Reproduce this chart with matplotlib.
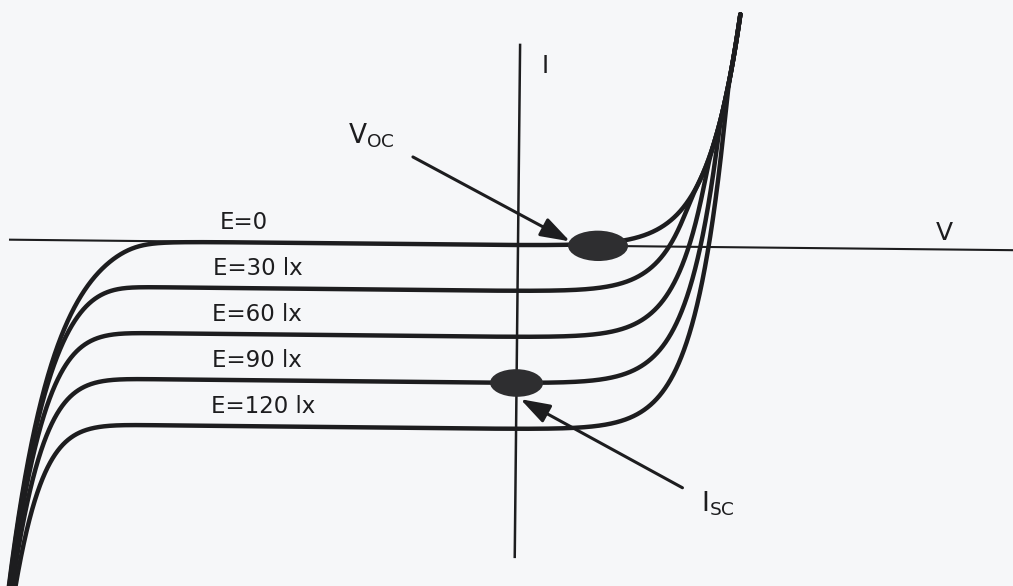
"""Photodiode I-V characteristic family for several illuminance levels."""
import numpy as np
import matplotlib
matplotlib.use("Agg")
import matplotlib.pyplot as plt
from matplotlib.patches import Ellipse, FancyArrowPatch
from matplotlib.transforms import Affine2D

# illuminance steps and the photocurrent (in I units) each one adds
lux = [0, 30, 60, 90, 120]
curve_labels = ["E=0", "E=30 lx", "E=60 lx", "E=90 lx", "E=120 lx"]
i_photo = [0.0, 1.0, 2.0, 3.0, 4.0]

# forward diode branch of the lit curves: I = Is*exp(V/Vt) - Iph
i_sat, v_t = 0.0050, 0.285
# forward branch of the dark curve
i_sat_dark, v_t_dark = 0.0042, 0.31
# reverse breakdown branch (common to all curves)
bd_offset, bd_amp, bd_v, bd_s = 0.31, 3.53, -4.72, 0.42

v_oc_mark = 0.8      # open-circuit mark on the dark curve
isc_index = 3        # short-circuit mark sits on the E=90 lx curve

# axis extents and where the arrows start / end
v_axis = (-5.08, 4.95)
i_axis = (4.35, -6.78)
voc_arrow = [(-1.06, 1.89), (0.52, 0.09)]
isc_arrow = [(1.67, -5.24), (0.04, -3.35)]

INK = "#1d1d1f"
BG = "#f6f7f9"


def softmin(a, b, k):
    return -k * np.logaddexp(-a / k, -b / k)


fig = plt.figure(figsize=(10.13, 5.86), dpi=100, facecolor=BG)
ax = fig.add_axes([0, 0, 1, 1])
ax.set_xlim(-5.18, 4.95)
ax.set_ylim(-7.413, 5.326)
ax.axis("off")

# the whole drawing sits slightly skewed, turn it about the origin
ox, oy = ax.transData.transform((0, 0))
tr = ax.transData + Affine2D().rotate_deg_around(ox, oy, -0.6)

# axes
ax.plot(v_axis, [0, 0], color=INK, lw=1.5, transform=tr, zorder=1)
ax.plot([0, 0], i_axis, color=INK, lw=1.8, transform=tr, zorder=1)
ax.text(0.22, 3.75, "I", fontsize=17, family="DejaVu Sans", color=INK,
        ha="left", va="baseline", transform=tr)
ax.text(4.18, 0.2, "V", fontsize=18, family="DejaVu Sans", color=INK,
        ha="left", va="baseline", transform=tr)

# curve family
v = np.linspace(-5.12, 2.25, 6000)
dark_fwd = i_sat_dark * np.exp(v / v_t_dark)
lit_fwd = i_sat * np.exp(v / v_t)
brk = softmin(bd_offset - bd_amp * np.exp(-(v - bd_v) / bd_s), 0.0, 0.1)

for iph, lab in zip(i_photo, curve_labels):
    right = dark_fwd if iph == 0 else softmin(lit_fwd - iph, dark_fwd, 0.12)
    cur = right + iph - np.sqrt(iph ** 2 + brk ** 2)
    keep = (cur <= 5.07) & (cur >= -7.6)
    ax.plot(v[keep], cur[keep], color=INK, lw=3.2, solid_capstyle="round",
            transform=tr, zorder=2)
    x0 = -2.98 if iph == 0 else -3.05
    ax.text(x0, -iph + 0.27, lab, fontsize=16.5, family="DejaVu Sans",
            color=INK, ha="left", va="baseline", transform=tr, zorder=3)

# Voc / Isc markers
ax.add_patch(Ellipse((v_oc_mark, 0.0), 0.6, 0.66, facecolor="#2e2e30",
                     edgecolor="none", transform=tr, zorder=4))
ax.add_patch(Ellipse((0.0, -i_photo[isc_index]), 0.53, 0.6,
                     facecolor="#2e2e30", edgecolor="none", transform=tr,
                     zorder=4))

for (a, b) in (voc_arrow, isc_arrow):
    ax.add_patch(FancyArrowPatch(a, b, arrowstyle="-|>,head_length=0.9,head_width=0.3",
                                 mutation_scale=20, lw=2.2, color=INK,
                                 shrinkA=0, shrinkB=0, transform=tr, zorder=5))

ax.text(-1.71, 2.17, r"V$_{\mathrm{OC}}$", fontsize=19, family="DejaVu Sans",
        color=INK, ha="left", va="baseline", transform=tr)
ax.text(1.86, -5.76, r"I$_{\mathrm{SC}}$", fontsize=19, family="DejaVu Sans",
        color=INK, ha="left", va="baseline", transform=tr)

fig.savefig("out.png", dpi=100, facecolor=BG)
